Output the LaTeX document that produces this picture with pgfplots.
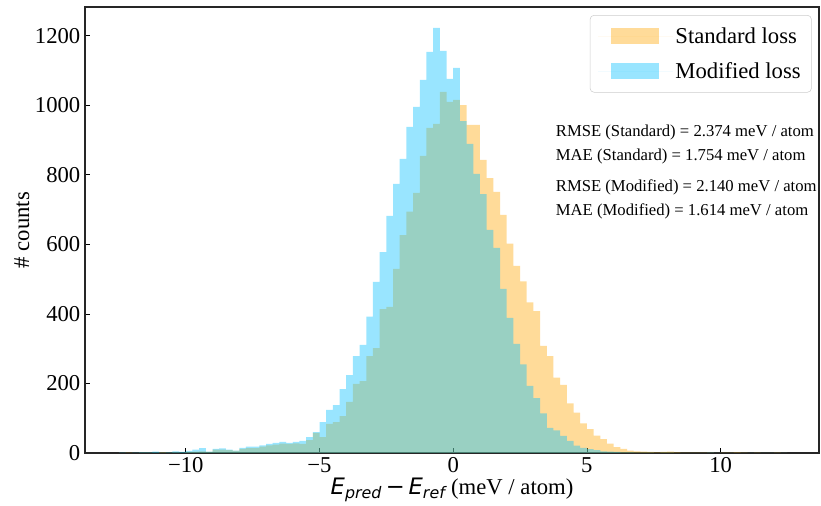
\documentclass[border=0pt]{standalone}
\usepackage{fontspec}
\setmainfont{Liberation Serif}
\newfontfamily\dvs{DejaVu Sans}
\usepackage{pgfplots}
\usepackage{pgfplotstable}
\pgfplotsset{compat=1.18}

\definecolor{stdOrange}{HTML}{FFA500}
\definecolor{modBlue}{HTML}{00BFFF}

% bin left edges (width 0.25), counts for standard and modified loss
\pgfplotstableread{
x      std   mod
-12.50 0     1
-12.25 1     0
-12.00 0     1
-11.75 1     2
-11.50 1     2
-11.25 1     4
-11.00 2     1
-10.75 1     2
-10.50 2     5
-10.25 1     3
-10.00 3     6
-9.75  4     10
-9.50  5     14
-9.25  3     4
-9.00  10    12
-8.75  10    13
-8.50  8     10
-8.25  6     7
-8.00  12    15
-7.75  14    18
-7.50  14    18
-7.25  18    22
-7.00  22    26
-6.75  24    29
-6.50  27    32
-6.25  26    29
-6.00  28    32
-5.75  26    35
-5.50  37    46
-5.25  58    60
-5.00  46    89
-4.75  84    124
-4.50  89    138
-4.25  106   184
-4.00  147   224
-3.75  199   279
-3.50  207   311
-3.25  279   392
-3.00  302   492
-2.75  414   578
-2.50  420   682
-2.25  530   774
-2.00  627   846
-1.75  694   938
-1.50  748   996
-1.25  855   1073
-1.00  935   1154
-0.75  947   1223
-0.50  1039  1157
-0.25  1010  1076
0.00   1016  1108
0.25   1001  955
0.50   944   889
0.75   944   803
1.00   843   745
1.25   791   642
1.50   751   590
1.75   685   472
2.00   602   389
2.25   538   314
2.50   494   255
2.75   433   193
3.00   408   158
3.25   308   114
3.50   279   72
3.75   217   65
4.00   196   49
4.25   143   35
4.50   116   21
4.75   85    15
5.00   69    11
5.25   50    8
5.50   40    5
5.75   27    4
6.00   17    3
6.25   12    2
6.50   7     2
6.75   5     1
7.00   4     1
7.25   3     1
7.50   2     0
7.75   3     1
8.00   4     1
8.25   2     0
8.50   1     0
8.75   1     0
9.00   1     0
9.25   1     0
9.50   1     1
9.75   0     0
10.00  1     0
10.25  1     0
10.50  2     0
10.75  1     0
11.00  0     0
11.25  1     0
11.50  0     0
11.75  0     0
12.00  1     0
12.25  0     0
12.50  0     0
}\histdata

\tikzset{stat/.style={anchor=west, inner sep=0pt, font=\fontsize{12.5}{15}\selectfont}}

\begin{document}
\begin{tikzpicture}
\begin{axis}[
  at={(0,0)}, anchor=south west,
  scale only axis, width=550.5pt, height=334.5pt,
  xmin=-13.77, xmax=13.68, ymin=0, ymax=1283,
  xtick={-10,-5,0,5,10}, xticklabels={−10,−5,0,5,10},
  ytick={0,200,400,600,800,1000,1200},
  yticklabels={0,200,400,600,800,1000,1200},
  tick align=inside, tick pos=left,
  major tick length=4pt,
  tick style={black, line width=0.6pt},
  axis line style={black!85, line width=0.8pt},
  ticklabel style={font=\fontsize{17}{20}\selectfont},
  ylabel={\# counts},
  ylabel style={font=\fontsize{17}{20}\selectfont, at={(axis description cs:-0.086,0.5)}, anchor=center},
  xlabel={{\dvs\itshape E\textsubscript{pred}}\,{\dvs −}\,{\dvs\itshape E\textsubscript{ref}} (meV / atom)},
  xlabel style={font=\fontsize{17}{20}\selectfont, at={(axis description cs:0.5,-0.083)}, anchor=center},
  legend cell align=left,
  legend style={at={(axis description cs:0.99,0.982)}, anchor=north east,
    font=\fontsize{17}{20}\selectfont, draw=black!20, rounded corners=3pt,
    fill=white, row sep=9pt, inner xsep=6pt, inner ysep=7pt},
]
\addplot[ybar interval, fill=stdOrange, fill opacity=0.4, draw=none,
  legend image code/.code={\fill[stdOrange, fill opacity=0.4, sharp corners] (10pt,-6pt) rectangle (46pt,6pt);
    \path (0pt,0pt) -- (56pt,0pt);}]
  table[x=x, y=std] {\histdata};
\addlegendentry{Standard loss}
\addplot[ybar interval, fill=modBlue, fill opacity=0.4, draw=none,
  legend image code/.code={\fill[modBlue, fill opacity=0.4, sharp corners] (10pt,-6pt) rectangle (46pt,6pt);
    \path (0pt,0pt) -- (56pt,0pt);}]
  table[x=x, y=mod] {\histdata};
\addlegendentry{Modified loss}

\node[stat] at (axis cs:3.83,921) {RMSE (Standard) = 2.374 meV / atom};
\node[stat] at (axis cs:3.83,852) {MAE (Standard) = 1.754 meV / atom};
\node[stat] at (axis cs:3.83,763) {RMSE (Modified) = 2.140 meV / atom};
\node[stat] at (axis cs:3.83,696) {MAE (Modified) = 1.614 meV / atom};
\end{axis}
\pgfresetboundingbox
\useasboundingbox (-63.75pt,-39.75pt) rectangle (552pt,339.75pt);
\end{tikzpicture}
\end{document}
